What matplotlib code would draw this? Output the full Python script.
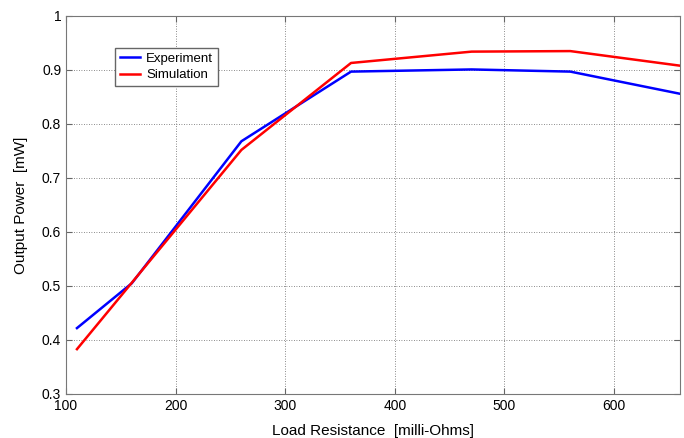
import numpy as np
import matplotlib.pyplot as plt

plt.rcParams['font.family'] = ['Liberation Sans', 'DejaVu Sans']

# data
resistance = [110, 160, 260, 360, 470, 560, 660]
experiment = [0.422, 0.505, 0.768, 0.897, 0.901, 0.897, 0.856]
simulation = [0.383, 0.506, 0.752, 0.913, 0.934, 0.935, 0.908]

fig = plt.figure(figsize=(6.84, 4.38), dpi=100)
ax = fig.add_axes([0.0965, 0.1005, 0.8975, 0.863])

ax.plot(resistance, experiment, color='#0000ff', lw=1.8, label='Experiment')
ax.plot(resistance, simulation, color='#ff0000', lw=1.8, label='Simulation')

ax.set_xlim(100, 660)
ax.set_ylim(0.3, 1.0)
ax.set_xticks(np.arange(100, 700, 100))
ax.set_yticks(np.arange(0.3, 1.01, 0.1))
ax.set_yticklabels(['0.3', '0.4', '0.5', '0.6', '0.7', '0.8', '0.9', '1'])
ax.grid(True, color='#666666', linestyle=(0, (1, 2)), linewidth=0.6)
ax.tick_params(direction='in', top=True, right=True, labelsize=10, length=4, color='#666666')
for s in ax.spines.values():
    s.set_color('#777777')

ax.set_xlabel('Load Resistance  [milli-Ohms]', fontsize=11, labelpad=8)
ax.set_ylabel('Output Power  [mW]', fontsize=11, labelpad=10)

leg = ax.legend(loc='upper left', bbox_to_anchor=(0.08, 0.915), borderaxespad=0,
                fontsize=9.5, fancybox=False, framealpha=1, edgecolor='#666666',
                handlelength=1.5, handletextpad=0.5, borderpad=0.35, labelspacing=0.3)

fig.savefig('out.png', dpi=100)
